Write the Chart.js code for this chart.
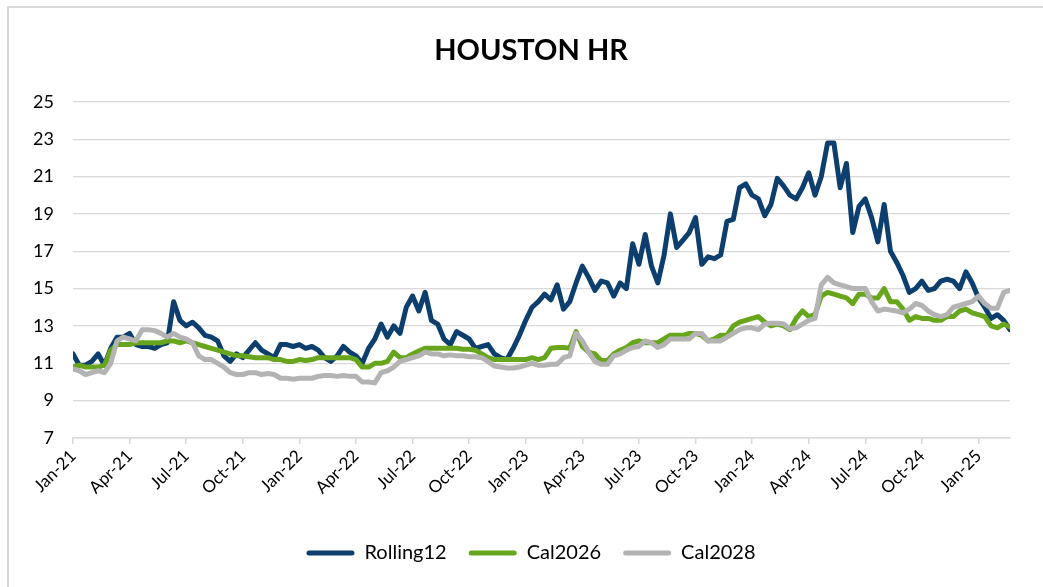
<!DOCTYPE html>
<html>
<head>
<meta charset="utf-8">
<script src="https://cdn.jsdelivr.net/npm/chart.js@4.4.1/dist/chart.umd.min.js"></script>
<style>
  body { margin: 0; background: #fff; overflow: hidden; }
  #frame { position: absolute; left: 7px; top: 6px; width: 1100px; height: 700px; border: 2px solid #d9d9d9; }
  #wrap { position: absolute; left: 0; top: 0; width: 1043px; height: 587px; }
</style>
</head>
<body>
<div id="frame"></div>
<div id="wrap"><canvas id="c"></canvas></div>
<script>
// sampled every 1/3 month starting Jan-21
const step = 1 / 3;

const xTickPos = [0, 3, 6, 9, 12, 15, 18, 21, 24, 27, 30, 33, 36, 39, 42, 45, 48];
const xTickLabels = ['Jan-21', 'Apr-21', 'Jul-21', 'Oct-21', 'Jan-22', 'Apr-22', 'Jul-22', 'Oct-22',
  'Jan-23', 'Apr-23', 'Jul-23', 'Oct-23', 'Jan-24', 'Apr-24', 'Jul-24', 'Oct-24', 'Jan-25'];

const rolling12 = [
  11.5, 10.9, 10.9, 11.1, 11.5, 10.9, 11.8, 12.4, 12.4, 12.6,
  12.0, 11.9, 11.9, 11.8, 12.0, 12.1, 14.3, 13.3, 13.0, 13.2,
  12.9, 12.5, 12.4, 12.2, 11.4, 11.1, 11.5, 11.3, 11.7, 12.1,
  11.7, 11.5, 11.3, 12.0, 12.0, 11.9, 12.0, 11.8, 11.9, 11.7,
  11.3, 11.1, 11.4, 11.9, 11.6, 11.4, 11.0, 11.8, 12.3, 13.1,
  12.4, 13.0, 12.6, 14.0, 14.6, 13.8, 14.8, 13.3, 13.1, 12.3,
  12.0, 12.7, 12.5, 12.3, 11.8, 11.9, 12.0, 11.5, 11.3, 11.2,
  11.8, 12.5, 13.3, 14.0, 14.3, 14.7, 14.4, 15.2, 13.9, 14.3,
  15.3, 16.2, 15.6, 14.9, 15.4, 15.3, 14.6, 15.3, 15.0, 17.4,
  16.3, 17.9, 16.2, 15.3, 16.8, 19.0, 17.2, 17.6, 18.0, 18.8,
  16.3, 16.7, 16.6, 16.8, 18.6, 18.7, 20.4, 20.6, 20.0, 19.8,
  18.9, 19.5, 20.9, 20.5, 20.0, 19.8, 20.4, 21.2, 20.0, 21.0,
  22.8, 22.8, 20.4, 21.7, 18.0, 19.4, 19.8, 18.8, 17.5, 19.5,
  17.0, 16.4, 15.7, 14.8, 15.0, 15.4, 14.9, 15.0, 15.4, 15.5,
  15.4, 15.0, 15.9, 15.3, 14.5, 14.0, 13.4, 13.6, 13.3, 12.8
];

const cal2026 = [
  10.8, 10.9, 10.8, 10.8, 10.8, 10.9, 11.7, 12.0, 12.0, 12.0,
  12.1, 12.1, 12.1, 12.1, 12.1, 12.2, 12.2, 12.1, 12.2, 12.1,
  12.0, 11.9, 11.8, 11.7, 11.6, 11.5, 11.4, 11.4, 11.35, 11.3,
  11.3, 11.3, 11.2, 11.2, 11.1, 11.1, 11.2, 11.15, 11.2, 11.3,
  11.3, 11.3, 11.3, 11.3, 11.3, 11.2, 10.8, 10.8, 11.0, 11.0,
  11.1, 11.6, 11.3, 11.3, 11.5, 11.65, 11.8, 11.8, 11.8, 11.8,
  11.8, 11.8, 11.75, 11.75, 11.7, 11.5, 11.3, 11.2, 11.2, 11.2,
  11.2, 11.2, 11.2, 11.3, 11.2, 11.3, 11.8, 11.85, 11.85, 11.8,
  12.7, 11.9, 11.6, 11.5, 11.15, 11.15, 11.5, 11.7, 11.85, 12.1,
  12.2, 12.1, 12.1, 12.1, 12.3, 12.5, 12.5, 12.5, 12.6, 12.6,
  12.5, 12.2, 12.3, 12.5, 12.5, 13.0, 13.2, 13.3, 13.4, 13.5,
  13.2, 13.0, 13.1, 13.0, 12.8, 13.4, 13.8, 13.5, 13.6, 14.6,
  14.8, 14.7, 14.6, 14.5, 14.2, 14.7, 14.7, 14.5, 14.5, 15.0,
  14.3, 14.3, 13.9, 13.3, 13.5, 13.4, 13.4, 13.3, 13.3, 13.5,
  13.5, 13.8, 13.9, 13.7, 13.6, 13.5, 13.0, 12.9, 13.1, 12.95
];

const cal2028 = [
  10.7, 10.6, 10.4, 10.5, 10.6, 10.5, 11.0, 12.2, 12.4, 12.3,
  12.2, 12.8, 12.8, 12.75, 12.6, 12.4, 12.6, 12.4, 12.3, 12.1,
  11.4, 11.2, 11.2, 11.0, 10.8, 10.5, 10.4, 10.4, 10.5, 10.5,
  10.4, 10.45, 10.4, 10.2, 10.2, 10.15, 10.2, 10.2, 10.2, 10.3,
  10.35, 10.35, 10.3, 10.35, 10.3, 10.3, 10.0, 10.0, 9.95, 10.5,
  10.6, 10.8, 11.1, 11.2, 11.3, 11.4, 11.6, 11.5, 11.5, 11.4,
  11.45, 11.4, 11.4, 11.35, 11.35, 11.3, 11.1, 10.85, 10.8, 10.75,
  10.75, 10.8, 10.9, 11.0, 10.9, 10.9, 10.95, 10.95, 11.3, 11.4,
  12.6, 12.2, 11.6, 11.1, 10.95, 10.95, 11.4, 11.5, 11.7, 11.85,
  11.9, 12.2, 12.1, 11.85, 12.0, 12.3, 12.3, 12.3, 12.3, 12.6,
  12.6, 12.2, 12.2, 12.2, 12.4, 12.6, 12.8, 12.9, 12.9, 12.8,
  13.1, 13.15, 13.15, 13.1, 12.85, 12.9, 13.1, 13.3, 13.4, 15.2,
  15.6, 15.3, 15.2, 15.1, 15.0, 15.0, 15.0, 14.3, 13.8, 13.9,
  13.85, 13.8, 13.7, 13.9, 14.2, 14.1, 13.8, 13.6, 13.5, 13.6,
  14.0, 14.1, 14.2, 14.3, 14.6, 14.2, 13.95, 13.95, 14.8, 14.9
];

const yTicks = [7, 9, 11, 13, 15, 17, 19, 21, 23, 25];

const toPts = arr => arr.map((v, i) => ({ x: i * step, y: v }));

const font = "'Lato', 'Open Sans', sans-serif";

function series(label, values, color, order) {
  return {
    label,
    data: toPts(values),
    borderColor: color,
    backgroundColor: color,
    borderWidth: 5,
    pointRadius: 0,
    tension: 0,
    borderJoinStyle: 'round',
    borderCapStyle: 'round',
    order
  };
}

new Chart(document.getElementById('c'), {
  type: 'line',
  data: {
    datasets: [
      series('Rolling12', rolling12, '#0c3f6d', 2),
      series('Cal2026', cal2026, '#67a61c', 1),
      series('Cal2028', cal2028, '#b3b3b3', 0)
    ]
  },
  options: {
    responsive: true,
    maintainAspectRatio: false,
    animation: false,
    layout: { padding: { left: 19, right: 0, top: 0, bottom: 14 } },
    plugins: {
      title: {
        display: true,
        text: 'HOUSTON HR',
        color: '#000',
        font: { family: font, size: 29, weight: 'bold' },
        padding: { top: 33, bottom: 34 }
      },
      legend: {
        position: 'bottom',
        labels: {
          color: '#000',
          font: { family: font, size: 20 },
          boxWidth: 48,
          boxHeight: 5,
          padding: 22,
          sort: (a, b) => a.datasetIndex - b.datasetIndex,
          generateLabels: chart => Chart.defaults.plugins.legend.labels.generateLabels(chart)
            .map(l => Object.assign(l, { lineWidth: 0, borderRadius: 2.5 }))
        }
      },
      tooltip: { enabled: false }
    },
    scales: {
      x: {
        type: 'linear',
        min: 0,
        max: 49.67,
        afterBuildTicks: s => { s.ticks = xTickPos.map(v => ({ value: v })); },
        afterFit: s => { s.height = 83; },
        ticks: {
          autoSkip: false,
          minRotation: 45,
          maxRotation: 45,
          color: '#000',
          font: { family: font, size: 17 },
          padding: 2,
          callback: v => xTickLabels[xTickPos.indexOf(v)]
        },
        grid: { drawOnChartArea: false, color: '#d9d9d9', tickLength: 6, lineWidth: 1.5 },
        border: { color: '#d9d9d9', width: 1.5 }
      },
      y: {
        min: 7,
        max: 25,
        afterBuildTicks: s => { s.ticks = yTicks.map(v => ({ value: v })); },
        afterFit: s => { s.width = 54; },
        ticks: {
          color: '#000',
          font: { family: font, size: 18 },
          padding: 19
        },
        grid: { color: '#d9d9d9', lineWidth: 1.2, drawTicks: false },
        border: { display: false }
      },
      // empty right-hand spacer so the plot ends where the reference does
      spacer: {
        type: 'linear',
        position: 'right',
        afterFit: s => { s.width = 33; },
        ticks: { display: false },
        grid: { display: false, drawTicks: false },
        border: { display: false }
      }
    }
  }
});
</script>
</body>
</html>
